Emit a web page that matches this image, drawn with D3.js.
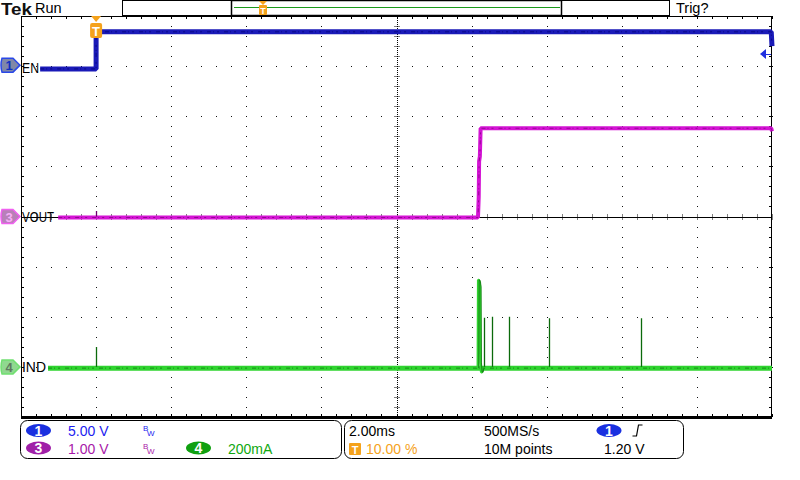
<!DOCTYPE html>
<html><head><meta charset="utf-8">
<script src="https://cdn.jsdelivr.net/npm/d3@7"></script>
<style>
body{margin:0;background:#fff}
svg{display:block}
text{font-family:"Liberation Sans",Arial,sans-serif}
</style></head>
<body>
<svg id="c" width="800" height="480"></svg>
<script>
// ---- data (time in ms, relative to trigger) ----
const timeTicksMs = [-2, 0, 2, 4, 6, 8, 10, 12, 14, 16, 18];
const divTicks = [-4, -3, -2, -1, 0, 1, 2, 3, 4];

// CH1 EN (V), 5 V/div
const enTimes = [-1.49, 0, 0, 17.98, 18];
const enVolts = [-0.28, -0.28, 3.42, 3.42, 2.0];

// CH3 VOUT (V), 1 V/div
const voutTimes = [-1.01, 10.17, 10.19, 10.20, 10.22, 10.24, 17.98, 18];
const voutVolts = [-0.02, -0.02, 0.40, 1.10, 1.20, 1.76, 1.76, 1.70];
const voutSpikeTimes = [0];
const voutSpikeVolts = [0.11];

// CH4 IND (mA), 200 mA/div
const indTimes = [-1.28, 18];
const indMilliamps = [-5, -5];
const indBurstTimes = [10.165, 10.175, 10.19, 10.21, 10.225, 10.235, 10.255, 10.28, 10.30];
const indBurstMilliamps = [-5, 347, 347, 339, 319, 19, -21, -21, -5];
const indSpikeTimes = [0, 10.34, 10.55, 11.0, 12.05, 14.5];
const indSpikeMilliamps = [79, 196, 200, 200, 194, 194];

// channel settings
const chNames = ["EN", "VOUT", "IND"];
const chLabelWidths = [17, 32, 24];
const chOffsetsDiv = [3, 0, -3];
const chPerDiv = [5, 1, 200];
const triggerLevelV = 1.20;

// ---- layout ----
const svg = d3.select("#c");
const L = 21, R = 772, T = 16, B = 417;
const x = d3.scaleLinear().domain([timeTicksMs[0], timeTicksMs[timeTicksMs.length - 1]]).range([L, R]);
const yDiv = d3.scaleLinear().domain([divTicks[0], divTicks[divTicks.length - 1]]).range([B, T]);
const chScale = (i) => d3.scaleLinear()
  .domain([(-4 - chOffsetsDiv[i]) * chPerDiv[i], (4 - chOffsetsDiv[i]) * chPerDiv[i]])
  .range([B, T]);
const y1 = chScale(0), y3 = chScale(1), y4 = chScale(2);

// ---- graticule ----
const g = svg.append("g");
const minorT = d3.range(timeTicksMs[0], timeTicksMs[timeTicksMs.length - 1] + 0.001, 0.4);
const minorD = d3.range(-4, 4.001, 0.2);
timeTicksMs.slice(1, -1).forEach(t => {
  if (t === 8) return;
  minorD.forEach(d => g.append("rect").attr("x", Math.round(x(t))).attr("y", Math.round(yDiv(d))).attr("width", 1).attr("height", 1).attr("fill", "#111"));
});
divTicks.slice(1, -1).forEach(d => {
  if (d === 0) return;
  minorT.forEach(t => g.append("rect").attr("x", Math.round(x(t))).attr("y", Math.round(yDiv(d))).attr("width", 1).attr("height", 1).attr("fill", "#111"));
});
const cx = Math.round(x(8)) + 0.5, cy = Math.round(yDiv(0)) + 0.5;
g.append("line").attr("x1", cx).attr("x2", cx).attr("y1", T).attr("y2", B).attr("stroke", "#000").attr("stroke-dasharray", "1,1");
g.append("line").attr("x1", L).attr("x2", R).attr("y1", cy).attr("y2", cy).attr("stroke", "#000");
minorD.forEach(d => g.append("line").attr("x1", cx - 3).attr("x2", cx + 3).attr("y1", Math.round(yDiv(d)) + 0.5).attr("y2", Math.round(yDiv(d)) + 0.5).attr("stroke", "#000").attr("stroke-dasharray", "1,1"));
minorT.forEach(t => g.append("line").attr("y1", cy - 3).attr("y2", cy + 3).attr("x1", Math.round(x(t)) + 0.5).attr("x2", Math.round(x(t)) + 0.5).attr("stroke", "#000").attr("stroke-dasharray", "1,1"));
minorT.forEach(t => {
  const xx = Math.round(x(t)) + 0.5;
  g.append("line").attr("x1", xx).attr("x2", xx).attr("y1", T).attr("y2", T + 3).attr("stroke", "#000");
  g.append("line").attr("x1", xx).attr("x2", xx).attr("y1", B - 3).attr("y2", B).attr("stroke", "#000");
});
minorD.forEach(d => {
  const yy = Math.round(yDiv(d)) + 0.5;
  g.append("line").attr("x1", L).attr("x2", L + 3).attr("y1", yy).attr("y2", yy).attr("stroke", "#000");
  g.append("line").attr("x1", R - 3).attr("x2", R).attr("y1", yy).attr("y2", yy).attr("stroke", "#000");
});
g.append("rect").attr("x", L + 0.5).attr("y", T + 0.5).attr("width", R - L - 1).attr("height", B - T).attr("fill", "none").attr("stroke", "#000");
g.append("line").attr("x1", L).attr("x2", R).attr("y1", B + 0.5).attr("y2", B + 0.5).attr("stroke", "#000").attr("stroke-width", 3);

// ---- traces ----
const lineOf = (ys) => d3.line().x(d => x(d[0])).y(d => ys(d[1])).curve(d3.curveLinear);
const zip = (a, b) => a.map((v, i) => [v, b[i]]);
const traces = svg.append("g");

function band(data, ys, color, dark, w) {
  traces.append("path").datum(data).attr("d", lineOf(ys)).attr("fill", "none").attr("stroke", color).attr("stroke-width", w).attr("stroke-linejoin", "bevel");
  traces.append("path").datum(data).attr("d", lineOf(ys)).attr("fill", "none").attr("stroke", dark).attr("stroke-width", 1).attr("stroke-dasharray", "4,2,1,3,2,5").attr("opacity", 0.7);
}
function spikes(times, vals, ys, color) {
  times.forEach((t, i) => {
    const xx = Math.round(x(t)) + 0.5;
    traces.append("line").attr("x1", xx).attr("x2", xx).attr("y1", ys(0)).attr("y2", ys(vals[i])).attr("stroke", color).attr("stroke-width", 1.3);
  });
}

band(zip(voutTimes, voutVolts), y3, "#d414d4", "#7a007a", 4);
spikes(voutSpikeTimes, voutSpikeVolts, y3, "#700070");
band(zip(indTimes, indMilliamps), y4, "#2fd42f", "#0b700b", 5);
spikes(indSpikeTimes, indSpikeMilliamps, y4, "#0b6a0b");
const burst = zip(indBurstTimes, indBurstMilliamps);
traces.append("path").datum(burst).attr("d", lineOf(y4)).attr("fill", "none").attr("stroke", "#2fd42f").attr("stroke-width", 2.5).attr("stroke-linejoin", "bevel");
traces.append("path").datum(burst).attr("d", lineOf(y4)).attr("fill", "none").attr("stroke", "#0b6a0b").attr("stroke-width", 0.8).attr("transform", "translate(1,0)");
band(zip(enTimes, enVolts), y1, "#1a1ab8", "#000070", 5);

// ---- channel labels & markers ----
const labelY = [y1(0) + 7, y3(0) + 5, y4(0) + 5];
chNames.forEach((n, i) => {
  svg.append("text").attr("x", 22).attr("y", labelY[i]).attr("font-size", 14)
    .attr("textLength", chLabelWidths[i]).attr("lengthAdjust", "spacingAndGlyphs").attr("fill", "#000").text(n);
});
const markers = [
  {c: y1(0) - 1, num: "1", fill: "#8088a8", stroke: "#2a48e8", tc: "#1030c0"},
  {c: y3(0), num: "3", fill: "#b880b8", stroke: "#f060f0", tc: "#f8b0f8"},
  {c: y4(0), num: "4", fill: "#90d890", stroke: "#70e070", tc: "#607860"}
];
markers.forEach(m => {
  const c = m.c;
  svg.append("path").attr("d", `M2,${c - 7} L13,${c - 7} L20,${c} L13,${c + 7} L2,${c + 7} Q0,${c} 2,${c - 7}Z`)
    .attr("fill", m.fill).attr("stroke", m.stroke).attr("stroke-width", 1.5);
  svg.append("text").attr("x", 9).attr("y", c + 5).attr("text-anchor", "middle").attr("font-size", 13).attr("font-weight", "bold").attr("fill", m.tc).text(m.num);
});

const ty = Math.round(y1(triggerLevelV));
svg.append("path").attr("d", `M760,${ty} L766,${ty - 5} L766,${ty + 5}Z`).attr("fill", "#2030e0");
svg.append("line").attr("x1", 765).attr("x2", 771).attr("y1", ty + 0.5).attr("y2", ty + 0.5).attr("stroke", "#2030e0");

const orange = "#f5a21b";
const tx = x(0);
svg.append("path").attr("d", `M${tx - 5},${T} L${tx + 5},${T} L${tx},${T + 6}Z`).attr("fill", orange);
svg.append("rect").attr("x", tx - 6).attr("y", T + 7).attr("width", 12).attr("height", 15).attr("rx", 2).attr("fill", orange);
svg.append("text").attr("x", tx).attr("y", T + 20).attr("text-anchor", "middle").attr("font-size", 13).attr("font-weight", "bold").attr("fill", "#fff").text("T");

// ---- top bar ----
svg.append("text").attr("x", 1).attr("y", 15).attr("font-family", "Liberation Serif").attr("font-weight", "bold").attr("font-size", 16.5)
  .attr("textLength", 31).attr("lengthAdjust", "spacingAndGlyphs").attr("fill", "#111").text("Tek");
svg.append("text").attr("x", 35).attr("y", 13).attr("font-size", 14.5).attr("fill", "#000").text("Run");
svg.append("rect").attr("x", 122.5).attr("y", 0.5).attr("width", 547).attr("height", 15).attr("fill", "none").attr("stroke", "#000");
svg.append("rect").attr("x", 231.5).attr("y", 0.5).attr("width", 330).attr("height", 15).attr("fill", "none").attr("stroke", "#000").attr("stroke-width", 1.5);
svg.append("line").attr("x1", 234).attr("x2", 560).attr("y1", 7.5).attr("y2", 7.5).attr("stroke", "#1a9a1a");
svg.append("path").attr("d", "M259,1 L267,1 L263,5Z").attr("fill", orange);
svg.append("rect").attr("x", 259).attr("y", 5).attr("width", 8).attr("height", 10).attr("rx", 1).attr("fill", orange);
svg.append("text").attr("x", 263).attr("y", 14).attr("text-anchor", "middle").attr("font-size", 9).attr("font-weight", "bold").attr("fill", "#fff").text("T");
svg.append("text").attr("x", 676).attr("y", 13).attr("font-size", 14.5).attr("fill", "#000").text("Trig?");

// ---- bottom status panel ----
const p = svg.append("g");
p.append("rect").attr("x", 20.5).attr("y", 420.5).attr("width", 321).attr("height", 38).attr("rx", 7).attr("fill", "none").attr("stroke", "#000");
p.append("rect").attr("x", 344.5).attr("y", 420.5).attr("width", 339).attr("height", 38).attr("rx", 7).attr("fill", "none").attr("stroke", "#000");
function badge(cxp, cyp, fill, num) {
  p.append("ellipse").attr("cx", cxp).attr("cy", cyp).attr("rx", 12.5).attr("ry", 6.5).attr("fill", fill);
  p.append("text").attr("x", cxp).attr("y", cyp + 5).attr("text-anchor", "middle").attr("font-size", 14).attr("font-weight", "bold").attr("fill", "#fff").text(num);
}
const blueT = "#1c1cf0", magT = "#a818a8", greenT = "#10a810";
badge(38.5, 430.5, "#1a30e0", "1");
badge(38.5, 448, "#a020a8", "3");
badge(198.5, 448, "#10a010", "4");
p.append("text").attr("x", 68).attr("y", 436).attr("font-size", 14).attr("fill", blueT).text("5.00 V");
p.append("text").attr("x", 68).attr("y", 454).attr("font-size", 14).attr("fill", magT).text("1.00 V");
p.append("text").attr("x", 228).attr("y", 454).attr("font-size", 14).attr("fill", greenT).text("200mA");
[[blueT, 426], [magT, 444]].forEach(([c, yy]) => {
  p.append("text").attr("x", 143).attr("y", yy + 5).attr("font-size", 8).attr("fill", c).text("B");
  p.append("text").attr("x", 147).attr("y", yy + 10).attr("font-size", 8).attr("fill", c).text("W");
});
p.append("text").attr("x", 349).attr("y", 436).attr("font-size", 14).attr("fill", "#000").text("2.00ms");
p.append("rect").attr("x", 349).attr("y", 443).attr("width", 12).attr("height", 12).attr("rx", 1).attr("fill", orange);
p.append("text").attr("x", 355).attr("y", 453.5).attr("text-anchor", "middle").attr("font-size", 11).attr("font-weight", "bold").attr("fill", "#fff").text("T");
p.append("text").attr("x", 366).attr("y", 454).attr("font-size", 14).attr("fill", orange).text("10.00 %");
p.append("text").attr("x", 484).attr("y", 436).attr("font-size", 14).attr("fill", "#000").text("500MS/s");
p.append("text").attr("x", 484).attr("y", 454).attr("font-size", 14).attr("fill", "#000").text("10M points");
badge(609, 430.5, "#1a30e0", "1");
p.append("path").attr("d", "M632.5,436 L636.5,436 L638.5,425 L642.5,425").attr("fill", "none").attr("stroke", "#000").attr("stroke-width", 1.2);
p.append("text").attr("x", 604).attr("y", 454).attr("font-size", 14).attr("fill", "#000").text("1.20 V");
</script>
</body></html>
